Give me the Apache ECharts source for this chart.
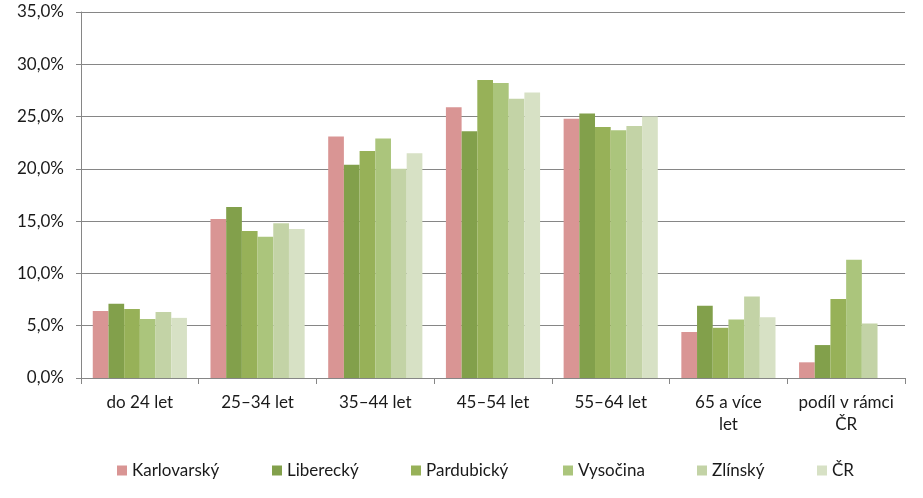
<!DOCTYPE html>
<html><head><meta charset="utf-8">
<script src="https://cdn.jsdelivr.net/npm/echarts@6/dist/echarts.min.js"></script>
<style>html,body{margin:0;padding:0;background:#fff}#c{width:923px;height:498px}</style>
</head><body><div id="c"></div>
<script>
const categories = ["do 24 let", "25–34 let", "35–44 let", "45–54 let", "55–64 let", "65 a více\nlet", "podíl v rámci\nČR"];
const seriesNames = ["Karlovarský", "Liberecký", "Pardubický", "Vysočina", "Zlínský", "ČR"];
const karlovarsky = [6.4, 15.2, 23.1, 25.9, 24.8, 4.4, 1.5];
const liberecky   = [7.1, 16.35, 20.4, 23.6, 25.3, 6.9, 3.15];
const pardubicky  = [6.6, 14.05, 21.7, 28.5, 24.0, 4.8, 7.55];
const vysocina    = [5.65, 13.5, 22.9, 28.2, 23.7, 5.6, 11.3];
const zlinsky     = [6.3, 14.8, 20.0, 26.7, 24.1, 7.8, 5.2];
const cr          = [5.75, 14.25, 21.5, 27.3, 25.0, 5.8, null];
const yTicks = {min: 0, max: 35, interval: 5};

const values = [karlovarsky, liberecky, pardubicky, vysocina, zlinsky, cr];
const colors = ["#D99594", "#82A04B", "#97B158", "#ABC57C", "#C3D3A6", "#D7E1C5"];
const font = "Lato, Carlito, 'Liberation Sans', sans-serif";
const legendLeft = [112, 267, 406, 558, 692, 812];
const txt = '#1a1a1a';

const chart = echarts.init(document.getElementById('c'));
chart.setOption({
  animation: false,
  textStyle: {fontFamily: font},
  grid: {left: 81, right: 18, top: 12, bottom: 120, containLabel: false},
  legend: seriesNames.map((n, i) => ({
    data: [n], left: legendLeft[i], top: 457, itemWidth: 10, itemHeight: 10, itemGap: 5,
    icon: 'rect', selectedMode: false,
    textStyle: {fontFamily: font, fontSize: 17, color: txt, padding: [0, 0, 0, 0]}
  })),
  xAxis: {
    type: 'category', data: categories,
    axisLine: {lineStyle: {color: '#868686', width: 1}},
    axisTick: {show: true, length: 6, lineStyle: {color: '#868686'}},
    axisLabel: {fontFamily: font, fontSize: 17, color: txt, margin: 14, lineHeight: 22, interval: 0}
  },
  yAxis: {
    type: 'value', min: yTicks.min, max: yTicks.max, interval: yTicks.interval,
    axisLine: {show: true, lineStyle: {color: '#868686'}},
    axisTick: {show: true, length: 5, lineStyle: {color: '#868686'}},
    splitLine: {lineStyle: {color: '#868686', width: 1}},
    axisLabel: {fontFamily: font, fontSize: 17, color: txt, margin: 17,
      formatter: v => v.toFixed(1).replace('.', ',') + '%'}
  },
  series: seriesNames.map((n, i) => ({
    name: n, type: 'bar', data: values[i],
    barGap: '0%', barCategoryGap: '20%',
    itemStyle: {color: colors[i]}
  }))
});
</script></body></html>
